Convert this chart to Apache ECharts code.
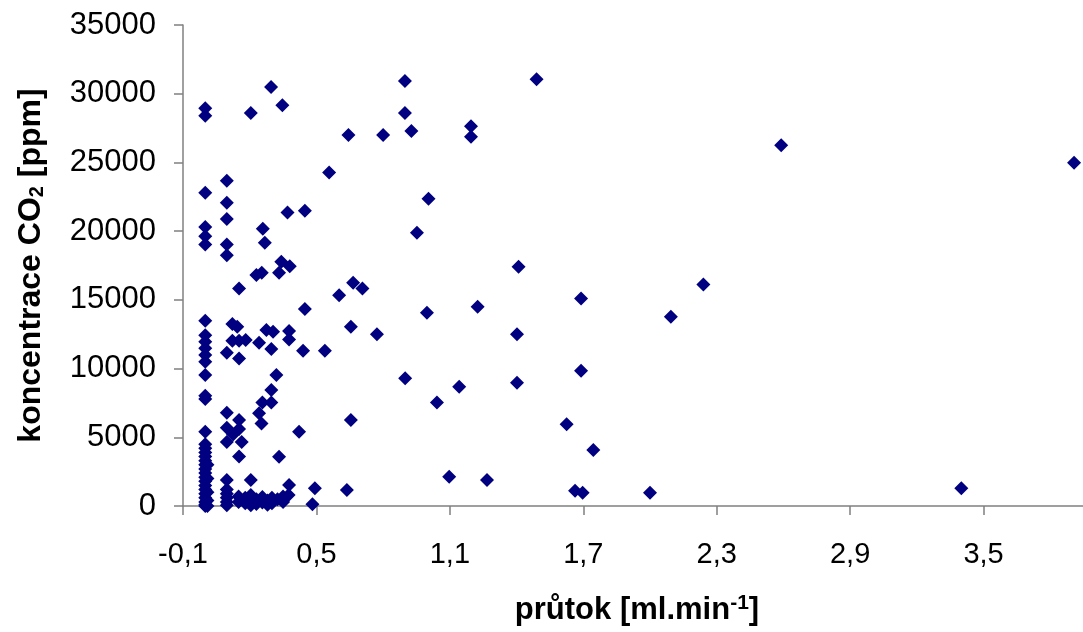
<!DOCTYPE html>
<html>
<head>
<meta charset="utf-8">
<script src="https://cdn.jsdelivr.net/npm/echarts@6/dist/echarts.min.js"></script>
<style>
html,body{margin:0;padding:0;background:#fff;}
#chart{width:1083px;height:632px;}
</style>
</head>
<body>
<div id="chart"></div>
<script>
// průtok [ml.min-1]
const flowRate = [
  0, 0, 0.205, 0.296, 0.347, 0.644, 0.80, 0.898, 0.898, 0.927, 1.195, 1.195, 0.557, 1.004, 0.952, 1.49, 2.59, 3.907,
  0, 0.097, 0.097, 0.097, 0.37, 0.448, 0, 0, 0, 0.097, 0.097, 0.259, 0.268,
  0.342, 0.38, 0.332, 0.23, 0.254, 0.152, 0.665, 0.602, 0.707,
  0.448, 0.997, 1.225, 0, 0.122, 0.144, 0.275, 0.305, 0.377, 0.377, 0.655, 0.772,
  0, 0, 0, 0, 0, 0,
  0.122, 0.152, 0.182, 0.242, 0.297, 0.097, 0.152, 0.44, 0.538, 0.32, 0.297, 0.257, 0.297, 0.899, 1.142, 1.042,
  0, 0, 0.097, 0.242, 0.253, 0.152, 0.097, 0.152, 0.125, 0.655, 0, 0.422, 0.097, 0.164, 0.152, 0.332,
  1.097, 0.097, 0.205, 0.377, 0.493, 0.637, 0.482,
  1.409, 2.24, 1.69, 2.094, 1.402, 1.69, 1.402, 1.625, 1.745, 1.267, 1.663, 1.697, 2.0, 3.40,
  0, 0, 0, 0, 0, 0, 0, 0, 0, 0, 0, 0, 0, 0, 0, 0, 0,
  0.01, 0.01, 0.01, 0.01, 0.01,
  0.097, 0.097, 0.097, 0.097, 0.097,
  0.15, 0.15, 0.18, 0.18, 0.205, 0.205, 0.205, 0.23, 0.23, 0.257, 0.257, 0.28, 0.28, 0.30, 0.30, 0.325, 0.35, 0.35, 0.375
];
// koncentrace CO2 [ppm]
const co2 = [
  28950, 28400, 28600, 30490, 29160, 27000, 27000, 30930, 28600, 27290, 27630, 26860, 24270, 22350, 19880, 31050, 26250, 24970,
  22785, 23660, 22060, 20890, 21360, 21480, 20310, 19630, 19030, 19030, 18250, 20170, 19150,
  17770, 17450, 16970, 16800, 16970, 15830, 16240, 15340, 15830,
  14330, 14060, 14490, 13480, 13240, 13040, 12800, 12680, 12730, 12120, 13040, 12490,
  12430, 11950, 11470, 10980, 10500, 9530,
  12020, 12020, 12070, 11880, 11420, 11150, 10740, 11290, 11290, 9530, 8440, 7540, 7540, 9290, 8680, 7540,
  8020, 7780, 6780, 6740, 6010, 6250, 5700, 5600, 5200, 6250, 5400, 5400, 4650, 4650, 3600, 3590,
  2130, 1890, 1890, 1530, 1290, 1160, 120,
  17400, 16120, 15100, 13770, 12490, 9840, 8970, 5940, 4070, 1890, 1110, 970, 970, 1290,
  4500, 4200, 3900, 3600, 3300, 3000, 2700, 2400, 2100, 1800, 1500, 1200, 900, 600, 300, 100, 0,
  3000, 2000, 1000, 400, 0,
  1200, 900, 600, 300, 50,
  700, 300, 600, 200, 800, 350, 50, 500, 150, 650, 250, 400, 100, 600, 200, 500, 700, 300, 800
];
const xTicks = { min: -0.1, max: 4.1, interval: 0.6 };
const yTicks = { min: 0, max: 35000, interval: 5000 };

const points = flowRate.map((x, i) => [x, co2[i]]);
const FONT = 'Liberation Sans, Arial, sans-serif';
const chart = echarts.init(document.getElementById('chart'), null, { renderer: 'canvas' });
chart.setOption({
  animation: false,
  backgroundColor: '#ffffff',
  grid: { left: 183, top: 25, right: -34, bottom: 126, outerBoundsMode: 'none', containLabel: false },
  xAxis: {
    type: 'value', min: xTicks.min, max: xTicks.max, interval: xTicks.interval,
    name: '{a|průtok [ml.min}{p|-1}{a|]}',
    nameLocation: 'middle', nameGap: 87,
    nameTextStyle: {
      padding: [0, 26, 0, 0],
      rich: {
        a: { fontFamily: FONT, fontSize: 31, fontWeight: 'bold', color: '#000', lineHeight: 34 },
        p: { fontFamily: FONT, fontSize: 21, fontWeight: 'bold', color: '#000', verticalAlign: 'top' }
      }
    },
    axisLine: { show: true, onZero: false, lineStyle: { color: '#808080', width: 1.5 } },
    axisTick: { show: true, inside: false, length: 9, lineStyle: { color: '#808080', width: 1.5 } },
    axisLabel: {
      margin: 34, fontFamily: FONT, fontSize: 29, color: '#000',
      formatter: v => v.toFixed(1).replace('.', ',')
    },
    splitLine: { show: false }
  },
  yAxis: {
    type: 'value', min: yTicks.min, max: yTicks.max, interval: yTicks.interval,
    name: '{a|koncentrace CO}{s|2}{a| [ppm]}',
    nameLocation: 'middle', nameGap: 136,
    nameTextStyle: {
      rich: {
        a: { fontFamily: FONT, fontSize: 32, fontWeight: 'bold', color: '#000' },
        s: { fontFamily: FONT, fontSize: 20, fontWeight: 'bold', color: '#000', verticalAlign: 'bottom' }
      }
    },
    axisLine: { show: true, onZero: false, lineStyle: { color: '#808080', width: 1.5 } },
    axisTick: { show: true, inside: false, length: 9, lineStyle: { color: '#808080', width: 1.5 } },
    axisLabel: { margin: 27, fontFamily: FONT, fontSize: 31, color: '#000', formatter: v => String(Math.round(v)) },
    splitLine: { show: false }
  },
  series: [{
    type: 'scatter',
    data: points,
    symbol: 'diamond',
    symbolSize: 14,
    itemStyle: { color: '#000080', opacity: 1 }
  }]
});
</script>
</body>
</html>
